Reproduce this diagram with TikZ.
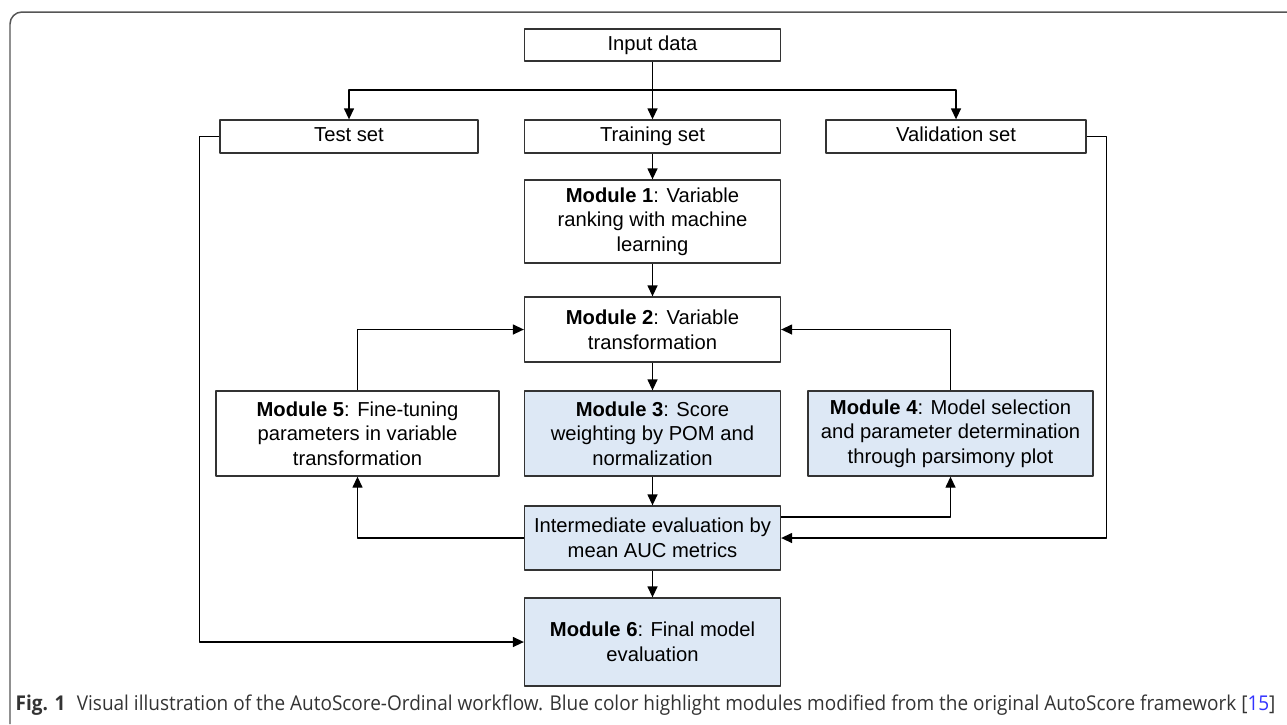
\documentclass[tikz,border=0pt]{standalone}
\usepackage{fontspec}
\usepackage{graphicx}
\setmainfont{Liberation Sans}
\newfontfamily\capfont{Open Sans}
\usetikzlibrary{arrows.meta}
\definecolor{modblue}{RGB}{221,232,245}
\definecolor{framegray}{RGB}{85,85,85}
\definecolor{refblue}{RGB}{51,51,255}
\tikzset{
	box/.style={draw=black!80,line width=0.75pt,align=center,inner sep=0pt,
		font=\fontsize{11.5}{14}\selectfont,minimum width=5.12cm},
	hlbox/.style={box,fill=modblue},
	oneline/.style={text height=8.3pt,text depth=2.5pt},
}
\begin{document}
\begin{tikzpicture}[x=0.02cm,y=-0.02cm,line join=round,>={Triangle[length=0.22cm,width=0.2cm]},line width=0.75pt]
		\useasboundingbox (0,0) rectangle (1287,724);
		% frame
		\draw[framegray,line width=0.85pt,rounded corners=0.24cm] (10,724)--(10,12)--(1287,12);
		% rows
		\node[box,oneline,minimum height=0.64cm] (input) at (652.5,45) {Input data};
		\node[box,oneline,minimum height=0.66cm] (train) at (652.5,136.5) {Training set};
		\node[box,oneline,minimum height=0.66cm,minimum width=5.16cm] (test) at (349,136.5) {Test set};
		\node[box,oneline,minimum height=0.66cm,minimum width=5.2cm] (valid) at (956,136.5) {Validation set};
		\node[box,minimum height=1.66cm] (mod1) at (652.5,221.5) {\textbf{Module 1}: Variable\\ranking with machine\\learning};
		\node[box,minimum height=1.3cm] (mod2) at (652.5,329.5) {\textbf{Module 2}: Variable\\transformation};
		\node[box,minimum height=1.7cm,minimum width=5.66cm] (mod5) at (357.5,433.5) {\textbf{Module 5}: Fine-tuning\\parameters in variable\\transformation};
		\node[hlbox,minimum height=1.7cm] (mod3) at (652.5,433.5) {\textbf{Module 3}: Score\\weighting by POM and\\normalization};
		\node[hlbox,minimum height=1.7cm,minimum width=5.7cm] (mod4) at (950.5,433.5) {\textbf{Module 4}: Model selection\\and parameter determination\\through parsimony plot};
		\node[hlbox,minimum height=1.28cm] (inter) at (652.5,538) {Intermediate evaluation by\\mean AUC metrics};
		\node[hlbox,minimum height=1.76cm] (mod6) at (652.5,642) {\textbf{Module 6}: Final model\\evaluation};
		% connectors
		\coordinate (split) at (652.5,90);
		\draw[->] (input)--(train);
		\draw[->] (split)-|(test);
		\draw[->] (split)-|(valid);
		\draw[->] (train)--(mod1);
		\draw[->] (mod1)--(mod2);
		\draw[->] (mod2)--(mod3);
		\draw[->] (mod3)--(inter);
		\draw[->] (inter)--(mod6);
		\draw[->] (mod5)|-(mod2);
		\draw[->] (mod4)|-(mod2);
		\draw[->] (inter.west)-|(mod5.south);
		\draw[->] ([yshift=0.42cm]inter.east)-|(mod4.south);
		\draw[->] (valid.east)--++(0.4cm,0)|-(inter.east);
		\draw[->] (test.west)--++(-0.4cm,0)|-(mod6.west);
		% caption
		\node[anchor=west,inner sep=0pt,text=black!80,font=\capfont\fontsize{11.6}{13}\selectfont] (cap) at (15,705)
			{\resizebox{25.2cm}{\height}{\textbf{Fig. 1}\hspace{0.6em}Visual illustration of the AutoScore-Ordinal workflow. Blue color highlight modules modified from the original AutoScore framework [\textcolor{refblue}{15}]}};
\end{tikzpicture}
\end{document}
